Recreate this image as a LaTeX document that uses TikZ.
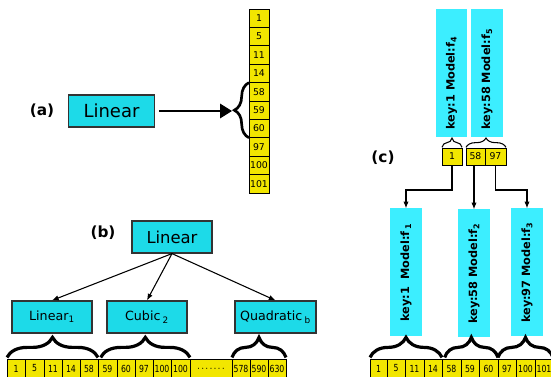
\documentclass[tikz,border=0pt]{standalone}
\usepackage{fontspec}
\setmainfont{DejaVu Sans}
\newfontfamily\narrowfont[FakeStretch=0.8]{DejaVu Sans}
\usetikzlibrary{arrows.meta}
\usetikzlibrary{decorations.pathreplacing}
\definecolor{boxcyan}{RGB}{29,218,232}
\definecolor{keycyan}{RGB}{60,238,255}
\definecolor{cellyellow}{RGB}{242,230,0}
\newcommand{\celldots}{.\,.\,.\,.\,.\,.\,.}

\begin{document}
\begin{tikzpicture}[x=0.75pt,y=-0.75pt,
    model/.style={draw=black!80,fill=boxcyan,line width=0.9pt,inner sep=0pt,minimum height=24pt},
    keybox/.style={fill=keycyan,rotate=90,inner xsep=6pt,inner ysep=0pt,text width=84pt,
      minimum height=23.5pt,font=\fontsize{8.5}{9}\selectfont\bfseries},
    cell/.style={draw,fill=cellyellow,line width=0.6pt,inner sep=0pt,outer sep=0pt},
    smallnum/.style={font=\fontsize{7}{8}\selectfont},
    rownum/.style={font=\narrowfont\fontsize{7.3}{8}\selectfont},
    bigbrace/.style={decorate,decoration={brace,amplitude=15pt,raise=1.2pt},line width=2.4pt},
    thinbrace/.style={decorate,decoration={brace,amplitude=7pt,raise=0.5pt},line width=0.8pt},
    tag/.style={font=\fontsize{11.5}{13}\selectfont\bfseries},
    link/.style={-{Latex[length=5pt,width=4pt]},line width=0.8pt}]
  \useasboundingbox (0,0) rectangle (551,377);

  % (a)
  \node[tag] (taga) at (42,111) {(a)};
  \node[model,minimum width=65pt,font=\fontsize{13.5}{15}\selectfont] (lina) at (111.5,111) {Linear};
  \foreach \v [count=\i] in {1,5,11,14,58,59,60,97,100,101}
    \node[cell,smallnum,minimum width=15pt,minimum height=13.8pt] (col\i) at (259,{9+18.4*(\i-0.5)}) {\v};
  \draw[decorate,decoration={brace,amplitude=11pt},line width=2pt] (col7.south west) -- (col5.north west);
  \coordinate (atip) at (232,111);
  \draw[-{Triangle[length=9pt,width=11pt]},line width=0.9pt] ([xshift=3pt]lina.east) -- (atip);

  % (b)
  \node[tag] (tagb) at (103,233) {(b)};
  \node[model,minimum width=60pt,font=\fontsize{12.3}{14}\selectfont] (root) at (172,237) {Linear};
  \node[model,minimum width=60pt,font=\fontsize{9.5}{11}\selectfont] (lin1) at (52,317) {Linear\textsubscript{1}};
  \node[model,minimum width=60pt,font=\fontsize{9.5}{11}\selectfont] (cub2) at (147,317) {Cubic\,\textsubscript{2}};
  \node[model,minimum width=60.75pt,font=\fontsize{9.5}{11}\selectfont] (quadb) at (275.5,317) {Quadratic\,\textsubscript{b}};
  \draw[link] (root.south) -- (lin1.north);
  \draw[link] (root.south) -- (cub2.north);
  \draw[link] (root.south) -- (quadb.north);
  \foreach \v/\xa/\xb [count=\i] in {1/7/25,5/25/44,11/44/62,14/62/80,58/80/98,59/98/117,60/117/135,
      97/135/153,100/153/171,100/171/190,\celldots/190/232,578/232/250,590/250/268,630/268/286}
    \node[cell,rownum,minimum width={(\xb-\xa)*0.75pt},minimum height=14.25pt] (bc\i) at ({(\xa+\xb)/2},368.5) {\v};
  \draw[bigbrace] (bc1.north west) -- (bc5.north east);
  \draw[bigbrace] ([xshift=2pt]bc6.north west) -- (bc10.north east);
  \draw[bigbrace] (bc12.north west) -- (bc14.north east);

  % (c)
  \node[tag] (tagc) at (383,158) {(c)};
  \node[keybox,align=left] (ck4) at (451.5,73.5) {key:1 Model:f\textsubscript{4}};
  \node[keybox,align=left] (ck5) at (487,73.5) {key:58 Model:f\textsubscript{5}};
  \node[cell,smallnum,minimum width=15pt,minimum height=12.75pt] (cs1) at (452,156.5) {1};
  \node[cell,smallnum,minimum width=14.25pt,minimum height=12.75pt] (cs2) at (475.5,156.5) {58};
  \node[cell,smallnum,minimum width=15.75pt,minimum height=12.75pt] (cs3) at (495.5,156.5) {97};
  \draw[thinbrace] (cs1.north west) -- (cs1.north east);
  \draw[thinbrace] (cs2.north west) -- (cs3.north east);
  \node[keybox,align=center] (cf1) at (406,272.5) {key:1\ \ Model:f\,\textsubscript{1}};
  \node[keybox,align=center] (cf2) at (474,273.5) {key:58 Model:f\textsubscript{2}};
  \node[keybox,align=center] (cf3) at (527,272.5) {key:97 Model:f\textsubscript{3}};
  \draw[link] (cs1.south) -- ++(0,25) -| (cf1.east);
  \draw[link] (cs2.south -| cf2.east) -- (cf2.east);
  \draw[link] (cs3.south) -- ++(0,25) -| (cf3.east);
  \foreach \v/\xa/\xb [count=\i] in {1/370/387,5/387/405,11/405/424,14/424/442,58/442/461,
      59/461/479,60/479/498,97/498/516,100/516/535,101/535/553}
    \node[cell,rownum,minimum width={(\xb-\xa)*0.75pt},minimum height=14.25pt] (cc\i) at ({(\xa+\xb)/2},368.5) {\v};
  \draw[bigbrace] (cc1.north west) -- (cc4.north east);
  \draw[bigbrace] ([xshift=2pt]cc5.north west) -- (cc7.north east);
  \draw[bigbrace] (cc8.north west) -- (cc10.north east);
\end{tikzpicture}
\end{document}
